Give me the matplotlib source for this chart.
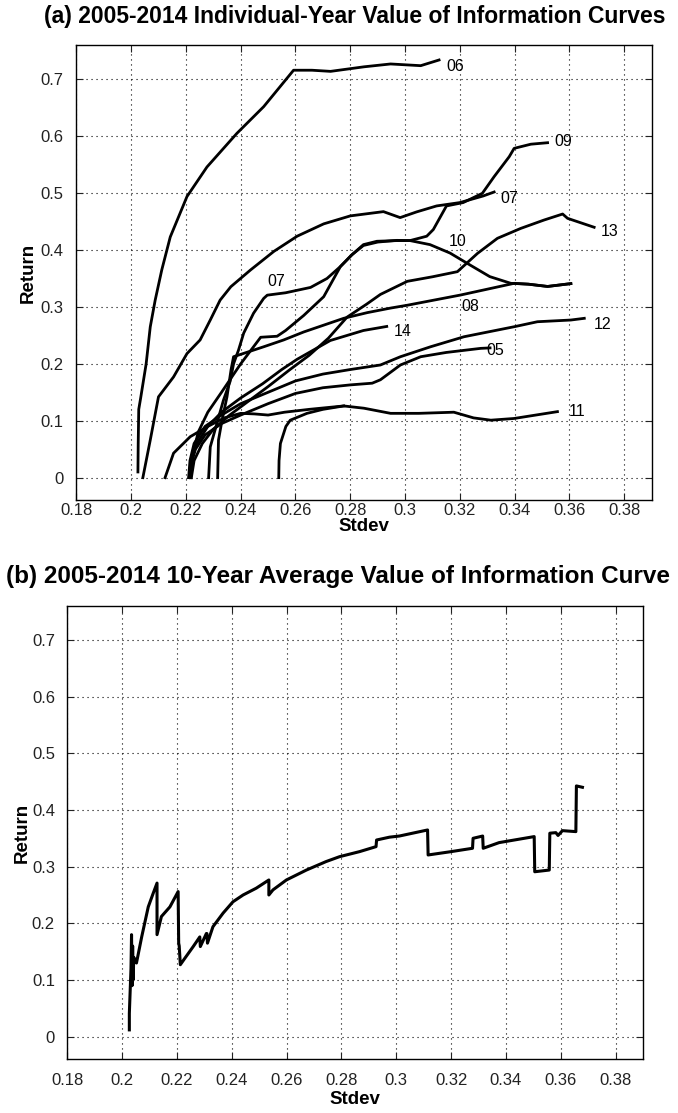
import matplotlib
matplotlib.use("Agg")
import matplotlib.pyplot as plt
from matplotlib.ticker import FuncFormatter

plt.rcParams["font.family"] = ["Liberation Sans", "DejaVu Sans"]

# (a) individual-year curves
c06_x = [0.2025, 0.2026, 0.2028, 0.2035, 0.2045, 0.2055, 0.2070, 0.2088, 0.2112, 0.2143, 0.2204,
         0.2277, 0.2386, 0.2484, 0.2593, 0.2660, 0.2728, 0.2850, 0.2947, 0.3057, 0.3124]
c06_y = [0.010, 0.060, 0.120, 0.140, 0.170, 0.200, 0.265, 0.312, 0.365, 0.423, 0.494,
         0.546, 0.605, 0.652, 0.716, 0.716, 0.714, 0.722, 0.727, 0.724, 0.734]

c07_x = [0.2043, 0.2070, 0.2100, 0.2155, 0.2204, 0.2252, 0.2289, 0.2325, 0.2364, 0.2436, 0.2521,
         0.2606, 0.2703, 0.2800, 0.2921, 0.2982, 0.3042, 0.3115, 0.3200, 0.3285, 0.3325]
c07_y = [0.000, 0.066, 0.142, 0.177, 0.218, 0.242, 0.277, 0.312, 0.3355, 0.365, 0.3976,
         0.4243, 0.446, 0.460, 0.4675, 0.457, 0.467, 0.4775, 0.4834, 0.495, 0.502]

c09_x = [0.2283, 0.2289, 0.2313, 0.2337, 0.2362, 0.2374, 0.2392, 0.2411, 0.2447, 0.2484, 0.2497,
         0.2564, 0.2655, 0.2715, 0.2764, 0.2806, 0.2848, 0.2897, 0.2970, 0.3018, 0.3079, 0.3103,
         0.3151, 0.3212, 0.3282, 0.3325, 0.3380, 0.3398, 0.3459, 0.3520]
c09_y = [0.000, 0.054, 0.095, 0.136, 0.170, 0.200, 0.224, 0.254, 0.289, 0.315, 0.3207,
         0.3249, 0.3343, 0.350, 0.371, 0.3917, 0.4095, 0.4154, 0.4166, 0.4166, 0.4243, 0.436,
         0.4775, 0.4834, 0.4997, 0.529, 0.564, 0.5787, 0.586, 0.5886]

c10_x = [0.2218, 0.2225, 0.2245, 0.2280, 0.2330, 0.2400, 0.2473, 0.2533, 0.2564, 0.2630, 0.2703,
         0.2764, 0.2806, 0.2848, 0.2900, 0.2970, 0.3018, 0.3091, 0.3164, 0.3236, 0.3309, 0.3386,
         0.3450, 0.3520, 0.3605]
c10_y = [0.000, 0.040, 0.080, 0.115, 0.150, 0.200, 0.2467, 0.2485, 0.2586, 0.285, 0.318,
         0.371, 0.3917, 0.408, 0.414, 0.417, 0.4166, 0.4095, 0.3947, 0.374, 0.3533, 0.3415,
         0.340, 0.336, 0.341]

c08_x = [0.2316, 0.2319, 0.2332, 0.2350, 0.2365, 0.2374, 0.2484, 0.2557, 0.2630, 0.2703, 0.2776,
         0.2862, 0.2947, 0.3008, 0.3203, 0.3398, 0.3450, 0.3520, 0.3605]
c08_y = [0.000, 0.066, 0.101, 0.142, 0.190, 0.2125, 0.230, 0.242, 0.256, 0.268, 0.280,
         0.290, 0.298, 0.303, 0.321, 0.3415, 0.340, 0.336, 0.341]

c13_x = [0.2220, 0.2230, 0.2260, 0.2300, 0.2360, 0.2430, 0.2500, 0.2580, 0.2650, 0.2720, 0.2788,
         0.2860, 0.2910, 0.3008, 0.3100, 0.3191, 0.3264, 0.3337, 0.3422, 0.3507, 0.3575, 0.3593, 0.3690]
c13_y = [0.000, 0.030, 0.060, 0.085, 0.110, 0.135, 0.160, 0.190, 0.215, 0.245, 0.282,
         0.305, 0.322, 0.345, 0.353, 0.362, 0.394, 0.4206, 0.438, 0.4527, 0.4633, 0.4557, 0.440]

c14_x = [0.2212, 0.2220, 0.2240, 0.2280, 0.2330, 0.2400, 0.2480, 0.2550, 0.2606, 0.2727, 0.2848, 0.2933]
c14_y = [0.000, 0.030, 0.060, 0.090, 0.115, 0.140, 0.165, 0.190, 0.208, 0.241, 0.2586, 0.2657]

c12_x = [0.2210, 0.2215, 0.2230, 0.2270, 0.2330, 0.2400, 0.2500, 0.2600, 0.2700, 0.2800, 0.2910,
         0.2983, 0.3093, 0.3215, 0.3398, 0.3483, 0.3605, 0.3654]
c12_y = [0.000, 0.030, 0.060, 0.090, 0.110, 0.130, 0.150, 0.170, 0.182, 0.190, 0.198,
         0.2125, 0.230, 0.2476, 0.2652, 0.274, 0.277, 0.280]

c05_x = [0.2215, 0.2220, 0.2235, 0.2270, 0.2330, 0.2400, 0.2500, 0.2600, 0.2700, 0.2800, 0.2880,
         0.2910, 0.2983, 0.3057, 0.3150, 0.3276, 0.3310]
c05_y = [0.000, 0.025, 0.050, 0.075, 0.095, 0.110, 0.130, 0.148, 0.158, 0.163, 0.166,
         0.172, 0.198, 0.2125, 0.220, 0.2272, 0.228]

c11_x = [0.2124, 0.2155, 0.2216, 0.2280, 0.2340, 0.2400, 0.2450, 0.2500, 0.2560, 0.2650, 0.2776,
         0.2850, 0.2947, 0.3050, 0.3178, 0.3250, 0.3313, 0.3398, 0.3556]
c11_y = [0.000, 0.043, 0.072, 0.090, 0.105, 0.113, 0.112, 0.110, 0.115, 0.120, 0.126,
         0.122, 0.113, 0.113, 0.115, 0.105, 0.101, 0.104, 0.116]

cx_x = [0.2539, 0.2540, 0.2545, 0.2565, 0.2581, 0.2642, 0.2700, 0.2776]
cx_y = [0.000, 0.030, 0.060, 0.090, 0.101, 0.113, 0.120, 0.126]

curves = [(c06_x, c06_y), (c07_x, c07_y), (c09_x, c09_y), (c10_x, c10_y), (c08_x, c08_y),
          (c13_x, c13_y), (c14_x, c14_y), (c12_x, c12_y), (c05_x, c05_y), (c11_x, c11_y),
          (cx_x, cx_y)]

# year labels written next to the curves
year_labels = ["06", "09", "07", "13", "10", "07", "08", "14", "12", "05", "11"]
label_x = [0.3149, 0.3544, 0.3347, 0.3715, 0.3160, 0.2496, 0.3205, 0.2959, 0.3690, 0.3298, 0.3599]
label_y = [0.722, 0.590, 0.491, 0.432, 0.4146, 0.344, 0.300, 0.2577, 0.270, 0.224, 0.116]

# (b) 10-year average curve
avg_x = [0.2026, 0.2026, 0.2032, 0.2034, 0.2036, 0.2038, 0.2040, 0.2042, 0.2052, 0.2071, 0.2095,
         0.2113, 0.2127, 0.2127, 0.2143, 0.2174, 0.2204, 0.2206, 0.2208, 0.2212, 0.2228, 0.2259,
         0.2283, 0.2285, 0.2307, 0.2309, 0.2311, 0.2331, 0.2368, 0.2404, 0.2441, 0.2489, 0.2535,
         0.2535, 0.2550, 0.2599, 0.2672, 0.2744, 0.2793, 0.2866, 0.2926, 0.2928, 0.2975, 0.3011,
         0.3114, 0.3116, 0.3200, 0.3278, 0.3280, 0.3315, 0.3317, 0.3375, 0.3503, 0.3505, 0.3558,
         0.3560, 0.3582, 0.3590, 0.3606, 0.3655, 0.3657, 0.3679]
avg_y = [0.012, 0.041, 0.120, 0.180, 0.090, 0.160, 0.100, 0.140, 0.130, 0.176, 0.229,
         0.253, 0.271, 0.180, 0.212, 0.229, 0.256, 0.165, 0.160, 0.127, 0.138, 0.159,
         0.176, 0.159, 0.182, 0.182, 0.165, 0.194, 0.218, 0.238, 0.250, 0.262, 0.2765,
         0.250, 0.259, 0.2765, 0.294, 0.309, 0.3176, 0.3265, 0.3353, 0.347, 0.352, 0.354,
         0.3647, 0.3206, 0.3265, 0.3324, 0.350, 0.354, 0.3324, 0.3424, 0.353, 0.291, 0.294,
         0.359, 0.360, 0.355, 0.3635, 0.3618, 0.4424, 0.440]

x_ticks = [0.18, 0.20, 0.22, 0.24, 0.26, 0.28, 0.30, 0.32, 0.34, 0.36, 0.38]
y_ticks = [0, 0.1, 0.2, 0.3, 0.4, 0.5, 0.6, 0.7]


def style_axes(ax, xpad, xlabelpad, ylabelpad):
    ax.set_xlim(0.18, 0.39)
    ax.set_ylim(-0.04, 0.76)
    ax.set_xticks(x_ticks)
    ax.set_yticks(y_ticks)
    fmt = FuncFormatter(lambda v, p: "%g" % round(v, 2))
    ax.xaxis.set_major_formatter(fmt)
    ax.yaxis.set_major_formatter(fmt)
    ax.tick_params(direction="in", top=True, right=True, length=5, width=0.8,
                   labelsize=12, colors="#222222")
    ax.tick_params(axis="x", pad=xpad)
    ax.tick_params(axis="y", pad=9)
    ax.grid(True, color="black", linestyle=(0, (1, 3.5)), linewidth=0.8)
    for s in ax.spines.values():
        s.set_linewidth(1.0)
    ax.set_xlabel("Stdev", fontsize=13.5, fontweight="bold", labelpad=xlabelpad)
    ax.set_ylabel("Return", fontsize=13.5, fontweight="bold", labelpad=ylabelpad)


fig = plt.figure(figsize=(6.78, 11.13), dpi=100, facecolor="white")

ax1 = fig.add_axes([0.1125, 0.5504, 0.8487, 0.409])
for cx, cy in curves:
    ax1.plot(cx, cy, color="black", linewidth=2.0)
for lab, lx, ly in zip(year_labels, label_x, label_y):
    ax1.text(lx, ly, lab, fontsize=11.5, ha="left", va="center")
style_axes(ax1, xpad=2, xlabelpad=0, ylabelpad=3)

ax2 = fig.add_axes([0.0994, 0.0482, 0.849, 0.4074])
ax2.plot(avg_x, avg_y, color="black", linewidth=2.2)
style_axes(ax2, xpad=10, xlabelpad=2, ylabelpad=1)

fig.text(355 / 678, 1 - 17 / 1113, "(a) 2005-2014 Individual-Year Value of Information Curves",
         ha="center", va="center", fontsize=16.5, fontweight="bold")
fig.text(338 / 678, 1 - 577 / 1113, "(b) 2005-2014 10-Year Average Value of Information Curve",
         ha="center", va="center", fontsize=17.5, fontweight="bold")

fig.savefig("out.png", dpi=100, facecolor="white")
